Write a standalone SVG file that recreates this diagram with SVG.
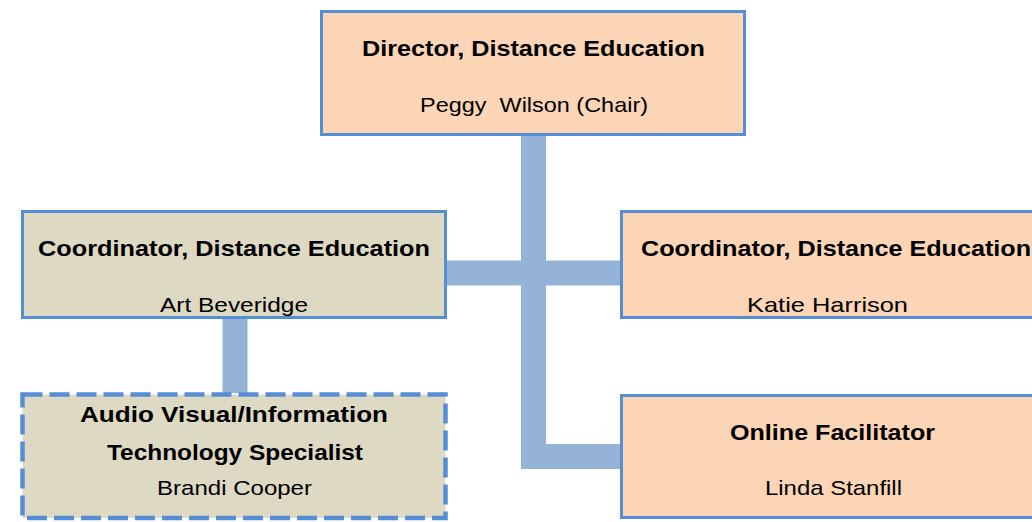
<svg xmlns="http://www.w3.org/2000/svg" width="1032" height="522" viewBox="0 0 1032 522">
<style>
.box{stroke:#558ED5;stroke-width:3}
.peach{fill:#FBD5B5}
.tan{fill:#DDD9C3}
.dash{stroke-width:4.5;stroke-dasharray:20 7}
.conn{fill:none;stroke:#95B3D7;stroke-width:25}
text{font-family:"Liberation Sans",Arial,sans-serif;fill:#000;text-anchor:middle}
.t{font-weight:bold;font-size:22px}
.n{font-size:21px}
</style>
<rect width="1032" height="522" fill="#fff"/>
<g id="connectors">
<path class="conn" d="M533.5 136V456.5H620"/>
<path class="conn" d="M447 273H620"/>
<path class="conn" d="M235 319V393"/>
</g>
<g id="director">
<rect class="box peach" x="321.5" y="11.5" width="423" height="123"/>
<text class="t" x="533.5" y="56" textLength="343" lengthAdjust="spacingAndGlyphs">Director, Distance Education</text>
<text class="n" x="534" y="112" xml:space="preserve" textLength="228" lengthAdjust="spacingAndGlyphs">Peggy  Wilson (Chair)</text>
</g>
<g id="coord-left">
<rect class="box tan" x="22.5" y="211.5" width="423" height="106"/>
<text class="t" x="234" y="256" textLength="392" lengthAdjust="spacingAndGlyphs">Coordinator, Distance Education</text>
<text class="n" x="234" y="312" textLength="148" lengthAdjust="spacingAndGlyphs">Art Beveridge</text>
</g>
<g id="coord-right">
<rect class="box peach" x="621.5" y="211.5" width="423" height="106"/>
<text class="t" x="836" y="256" textLength="390" lengthAdjust="spacingAndGlyphs">Coordinator, Distance Education</text>
<text class="n" x="827.5" y="312" textLength="161" lengthAdjust="spacingAndGlyphs">Katie Harrison</text>
</g>
<g id="online">
<rect class="box peach" x="621.5" y="395.5" width="423" height="122"/>
<text class="t" x="832.5" y="440" textLength="205" lengthAdjust="spacingAndGlyphs">Online Facilitator</text>
<text class="n" x="833.5" y="495" textLength="137" lengthAdjust="spacingAndGlyphs">Linda Stanfill</text>
</g>
<g id="av-it">
<rect class="box tan dash" x="22.5" y="394.5" width="423" height="123.5"/>
<text class="t" x="234" y="422" textLength="308" lengthAdjust="spacingAndGlyphs">Audio Visual/Information</text>
<text class="t" x="235" y="460" textLength="256" lengthAdjust="spacingAndGlyphs">Technology Specialist</text>
<text class="n" x="234.5" y="495" textLength="155" lengthAdjust="spacingAndGlyphs">Brandi Cooper</text>
</g>
</svg>
